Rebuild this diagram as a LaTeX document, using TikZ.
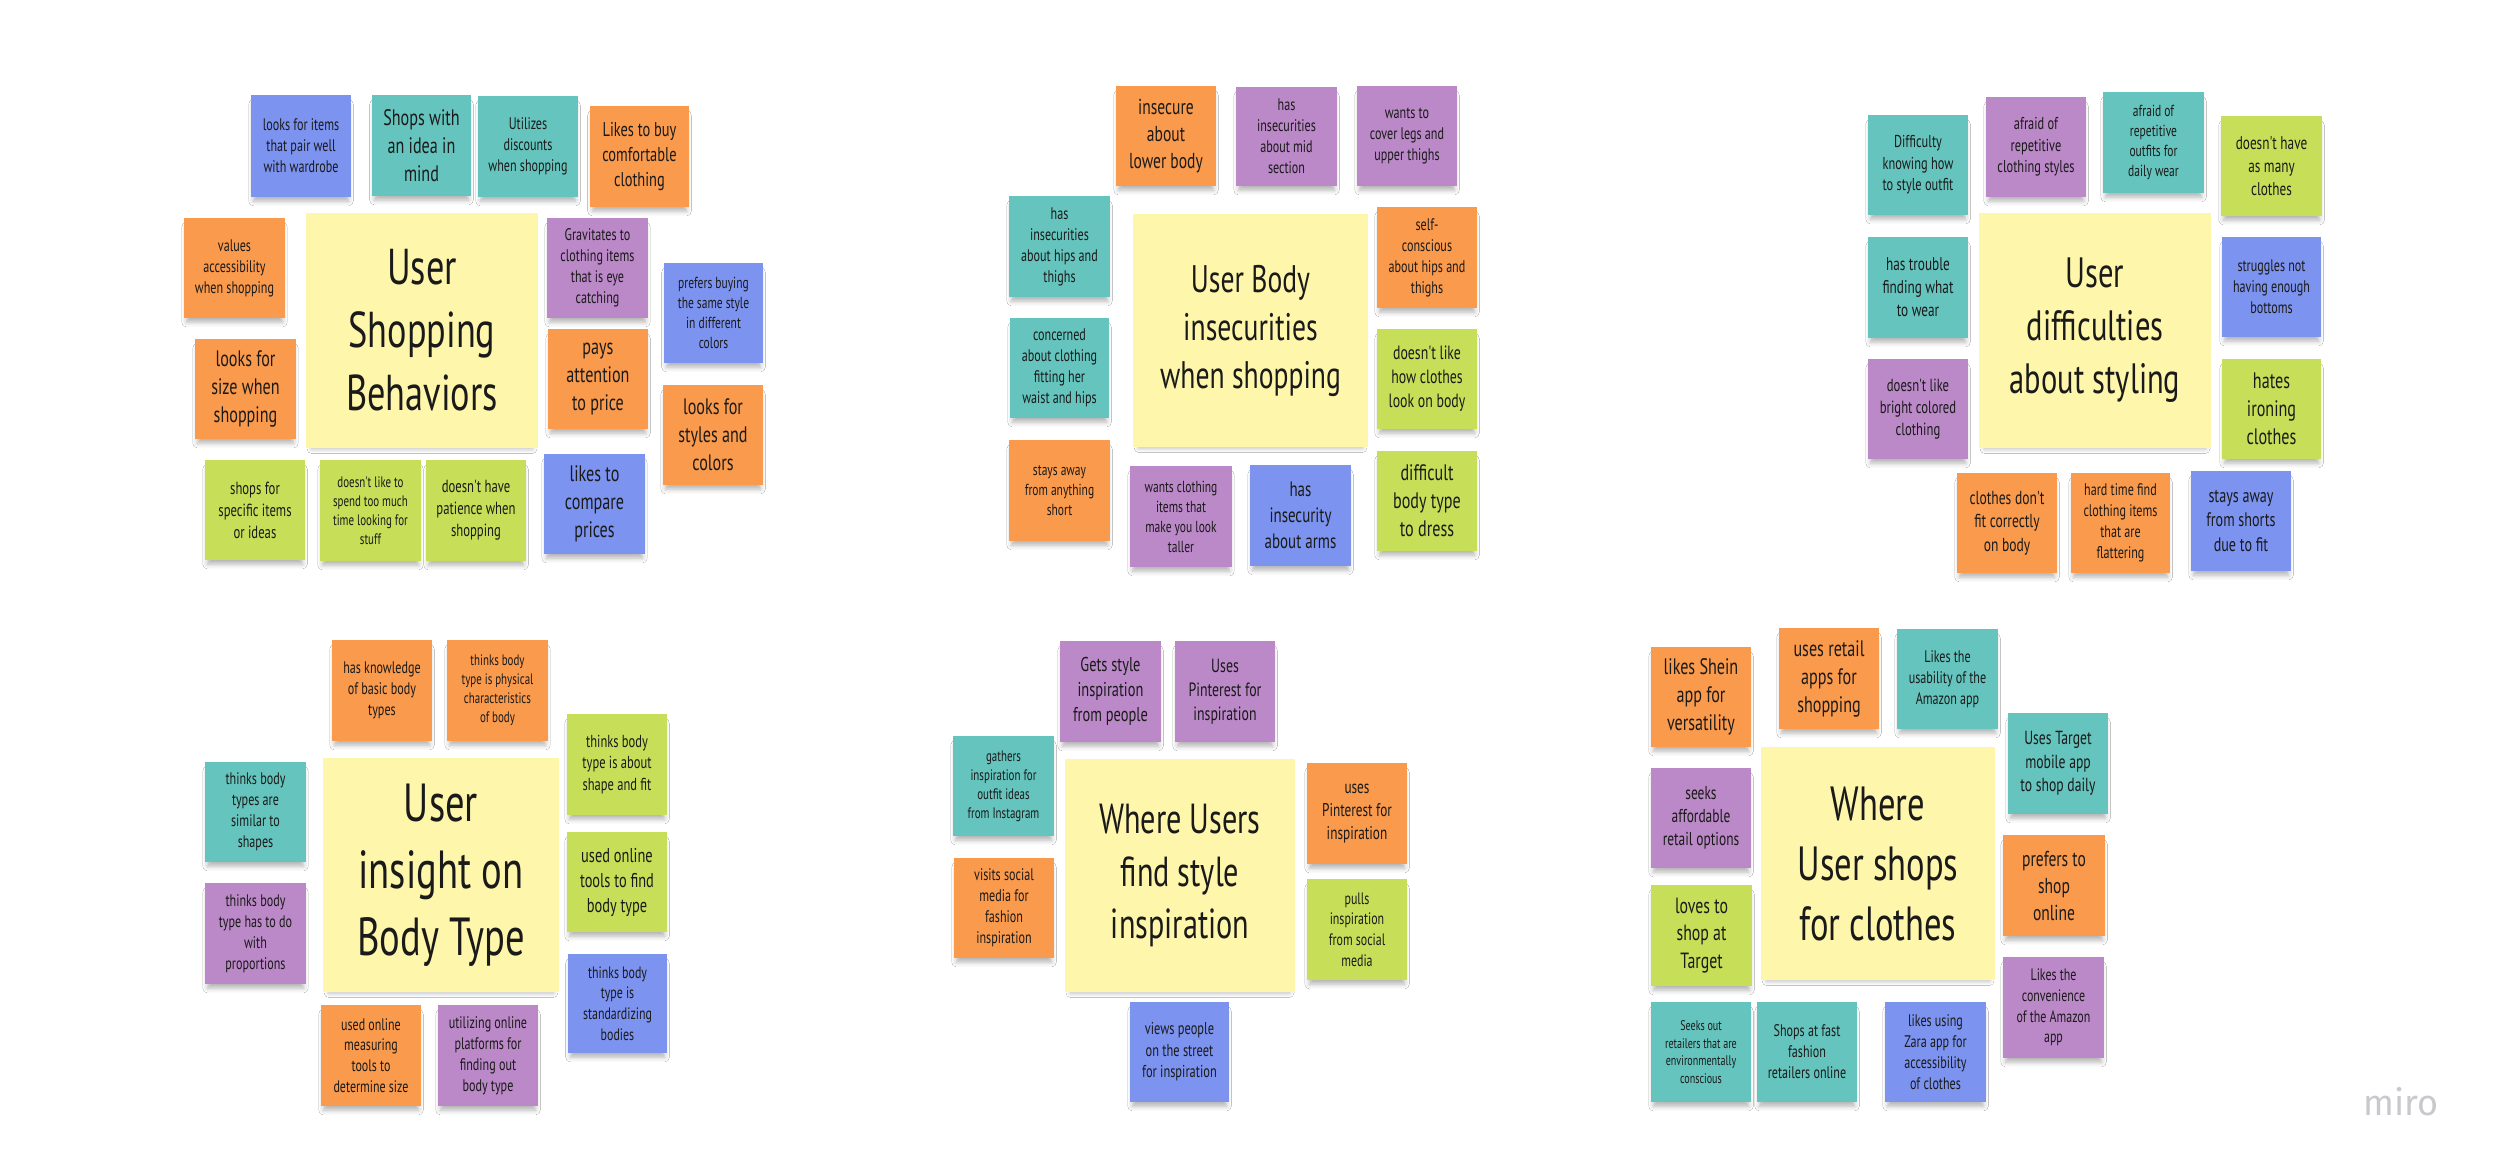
\documentclass[tikz,border=0pt]{standalone}
\usepackage{fontspec}
\usetikzlibrary{shadows.blur}
\newfontfamily\hand{PT Sans}[FakeStretch=0.72]
\newfontfamily\logofont{Fira Sans}
\definecolor{cYe}{HTML}{FEF6AA}
\definecolor{cOr}{HTML}{FA9A4C}
\definecolor{cTe}{HTML}{65C4BD}
\definecolor{cGr}{HTML}{C7DE58}
\definecolor{cPu}{HTML}{BB88C8}
\definecolor{cBl}{HTML}{7C93F0}
\definecolor{cTx}{HTML}{1A1A1A}
\definecolor{cLogo}{HTML}{C9C9CD}
\tikzset{
  sticky/.style={rectangle, inner sep=0pt, align=center, text=cTx,
    blur shadow={shadow xshift=0pt, shadow yshift=-7pt, shadow scale=0.95, shadow blur radius=5pt, shadow opacity=30}}
}
\newcommand\stk[8]{%
  \pgfmathsetmacro\stkfs{0.8*#7}%
  \node[sticky, fill=#2, minimum width={(#5)-(#3)}, minimum height={(#6)-(#4)},
        font=\hand\fontsize{\stkfs pt}{#7 pt}\selectfont]
        (#1) at ({((#3)+(#5))/2},{((#4)+(#6))/2}) {#8};}
\begin{document}
\begin{tikzpicture}[x=1pt, y=-1pt]
\fill[white] (0,0) rectangle (2500,1175);
\useasboundingbox (0,0) rectangle (2500,1175);
% ---------- Cluster 1: User Shopping Behaviors ----------
\stk{sa1}{cBl}{251}{95}{351}{197}{21}{looks for items\\that pair well\\with wardrobe}
\stk{sa2}{cTe}{372}{95}{471}{196}{28}{Shops with\\an idea in\\mind}
\stk{sa3}{cTe}{478}{96}{578}{197}{21}{Utilizes\\discounts\\when shopping}
\stk{sa4}{cOr}{590}{106}{689}{207}{25}{Likes to buy\\comfortable\\clothing}
\stk{sa5}{cOr}{184}{218}{285}{318}{21}{values\\accessibility\\when shopping}
\stk{ma}{cYe}{306}{213}{538}{448}{63}{User\\Shopping\\Behaviors}
\stk{sa6}{cPu}{547}{218}{648}{318}{21}{Gravitates to\\clothing items\\that is eye\\catching}
\stk{sa7}{cBl}{664}{263}{763}{363}{20}{prefers buying\\the same style\\in different\\colors}
\stk{sa8}{cOr}{195}{339}{296}{439}{28}{looks for\\size when\\shopping}
\stk{sa9}{cOr}{548}{329}{648}{429}{28}{pays\\attention\\to price}
\stk{sa10}{cOr}{663}{385}{763}{485}{28}{looks for\\styles and\\colors}
\stk{sa11}{cGr}{205}{460}{305}{560}{22}{shops for\\specific items\\or ideas}
\stk{sa12}{cGr}{320}{460}{421}{561}{19}{doesn't like to\\spend too much\\time looking for\\stuff}
\stk{sa13}{cGr}{426}{460}{526}{561}{22}{doesn't have\\patience when\\shopping}
\stk{sa14}{cBl}{544}{454}{645}{554}{28}{likes to\\compare\\prices}
% ---------- Cluster 2: User Body insecurities ----------
\stk{sb1}{cOr}{1116}{86}{1216}{186}{27}{insecure\\about\\lower body}
\stk{sb2}{cPu}{1236}{87}{1337}{186}{21}{has\\insecurities\\about mid\\section}
\stk{sb3}{cPu}{1357}{86}{1457}{186}{21}{wants to\\cover legs and\\upper thighs}
\stk{sb4}{cTe}{1009}{196}{1110}{297}{21}{has\\insecurities\\about hips and\\thighs}
\stk{mb}{cYe}{1133}{214}{1368}{447}{48}{User Body\\insecurities\\when shopping}
\stk{sb5}{cOr}{1377}{207}{1477}{308}{21}{self-\\conscious\\about hips and\\thighs}
\stk{sb6}{cTe}{1010}{318}{1109}{418}{21}{concerned\\about clothing\\fitting her\\waist and hips}
\stk{sb7}{cGr}{1377}{329}{1477}{429}{24}{doesn't like\\how clothes\\look on body}
\stk{sb8}{cOr}{1009}{440}{1110}{541}{20}{stays away\\from anything\\short}
\stk{sb9}{cPu}{1130}{466}{1232}{567}{20}{wants clothing\\items that\\make you look\\taller}
\stk{sb10}{cBl}{1250}{465}{1351}{566}{26}{has\\insecurity\\about arms}
\stk{sb11}{cGr}{1377}{451}{1477}{551}{28}{difficult\\body type\\to dress}
% ---------- Cluster 3: User difficulties about styling ----------
\stk{sc1}{cTe}{1868}{115}{1968}{215}{21.5}{Difficulty\\knowing how\\to style outfit}
\stk{sc2}{cPu}{1986}{97}{2086}{197}{21.5}{afraid of\\repetitive\\clothing styles}
\stk{sc3}{cTe}{2103}{92}{2204}{193}{20}{afraid of\\repetitive\\outfits for\\daily wear}
\stk{sc4}{cGr}{2221}{116}{2322}{216}{23}{doesn't have\\as many\\clothes}
\stk{sc5}{cTe}{1868}{237}{1968}{338}{23}{has trouble\\finding what\\to wear}
\stk{mc}{cYe}{1979}{213}{2211}{448}{53}{User\\difficulties\\about styling}
\stk{sc6}{cBl}{2222}{237}{2321}{337}{21}{struggles not\\having enough\\bottoms}
\stk{sc7}{cPu}{1868}{359}{1968}{459}{22}{doesn't like\\bright colored\\clothing}
\stk{sc8}{cGr}{2222}{359}{2321}{459}{28}{hates\\ironing\\clothes}
\stk{sc9}{cOr}{1957}{473}{2057}{573}{23.5}{clothes don't\\fit correctly\\on body}
\stk{sc10}{cOr}{2071}{473}{2170}{573}{21}{hard time find\\clothing items\\that are\\flattering}
\stk{sc11}{cBl}{2191}{471}{2291}{571}{24.5}{stays away\\from shorts\\due to fit}
% ---------- Cluster 4: User insight on Body Type ----------
\stk{sd1}{cOr}{332}{640}{432}{741}{21}{has knowledge\\of basic body\\types}
\stk{sd2}{cOr}{447}{640}{548}{741}{19}{thinks body\\type is physical\\characteristics\\of body}
\stk{sd3}{cGr}{567}{714}{667}{815}{21.7}{thinks body\\type is about\\shape and fit}
\stk{sd4}{cTe}{205}{762}{306}{862}{21}{thinks body\\types are\\similar to\\shapes}
\stk{md}{cYe}{323}{758}{559}{992}{67}{User\\insight on\\Body Type}
\stk{sd5}{cGr}{567}{832}{667}{932}{25}{used online\\tools to find\\body type}
\stk{sd6}{cPu}{205}{883}{306}{984}{21}{thinks body\\type has to do\\with\\proportions}
\stk{sd7}{cBl}{568}{954}{667}{1053}{20.7}{thinks body\\type is\\standardizing\\bodies}
\stk{sd8}{cOr}{321}{1005}{421}{1106}{20.8}{used online\\measuring\\tools to\\determine size}
\stk{sd9}{cPu}{438}{1005}{538}{1106}{21}{utilizing online\\platforms for\\finding out\\body type}
% ---------- Cluster 5: Where Users find style inspiration ----------
\stk{se1}{cPu}{1060}{641}{1161}{742}{25}{Gets style\\inspiration\\from people}
\stk{se2}{cPu}{1175}{641}{1275}{742}{24}{Uses\\Pinterest for\\inspiration}
\stk{se3}{cTe}{953}{736}{1054}{836}{19}{gathers\\inspiration for\\outfit ideas\\from Instagram}
\stk{me}{cYe}{1065}{759}{1295}{992}{52.5}{Where Users\\find style\\inspiration}
\stk{se4}{cOr}{1307}{763}{1407}{864}{23}{uses\\Pinterest for\\inspiration}
\stk{se5}{cOr}{954}{858}{1054}{958}{21}{visits social\\media for\\fashion\\inspiration}
\stk{se6}{cGr}{1307}{879}{1407}{980}{20.7}{pulls\\inspiration\\from social\\media}
\stk{se7}{cBl}{1130}{1002}{1229}{1102}{21.5}{views people\\on the street\\for inspiration}
% ---------- Cluster 6: Where User shops for clothes ----------
\stk{sf1}{cOr}{1651}{647}{1751}{747}{28}{likes Shein\\app for\\versatility}
\stk{sf2}{cOr}{1779}{628}{1879}{729}{28}{uses retail\\apps for\\shopping}
\stk{sf3}{cTe}{1897}{629}{1998}{729}{21}{Likes the\\usability of the\\Amazon app}
\stk{sf4}{cTe}{2008}{713}{2108}{814}{23.7}{Uses Target\\mobile app\\to shop daily}
\stk{sf5}{cPu}{1651}{768}{1751}{868}{23.3}{seeks\\affordable\\retail options}
\stk{mf}{cYe}{1761}{747}{1995}{980}{60}{Where\\User shops\\for clothes}
\stk{sf6}{cOr}{2003}{835}{2105}{936}{27}{prefers to\\shop\\online}
\stk{sf7}{cGr}{1651}{885}{1752}{986}{27.5}{loves to\\shop at\\Target}
\stk{sf8}{cPu}{2003}{957}{2104}{1058}{20.7}{Likes the\\convenience\\of the Amazon\\app}
\stk{sf9}{cTe}{1651}{1002}{1751}{1102}{17.5}{Seeks out\\retailers that are\\environmentally\\conscious}
\stk{sf10}{cTe}{1757}{1002}{1857}{1102}{21}{Shops at fast\\fashion\\retailers online}
\stk{sf11}{cBl}{1885}{1002}{1986}{1102}{21}{likes using\\Zara app for\\accessibility\\of clothes}
% ---------- logo ----------
\node[anchor=base, text=cLogo, font=\logofont\fontsize{36pt}{40pt}\selectfont, inner sep=0pt] (logo) at (2401,1115) {miro};
\end{tikzpicture}
\end{document}
